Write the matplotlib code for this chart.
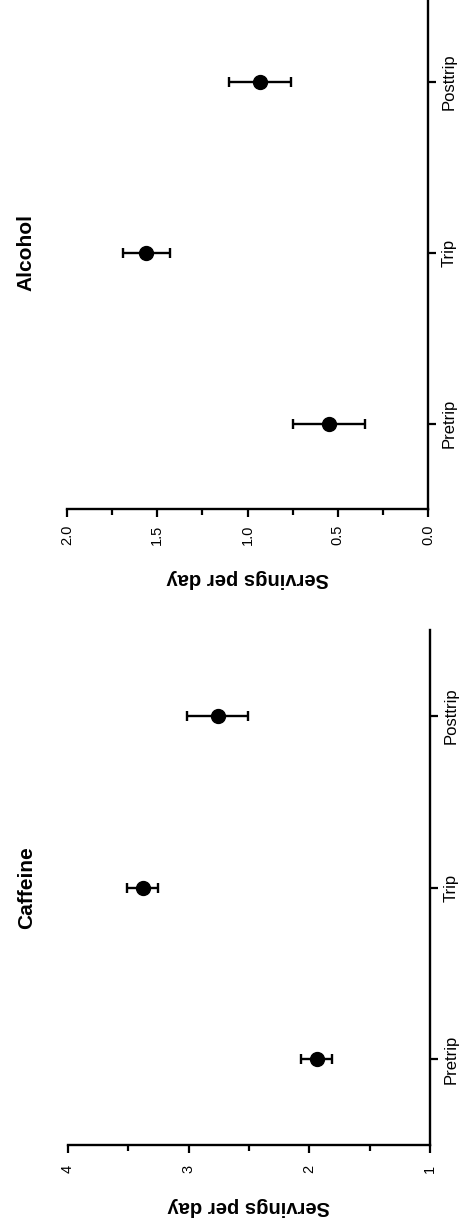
import matplotlib
matplotlib.use("Agg")
import matplotlib.pyplot as plt
from matplotlib.ticker import MultipleLocator

plt.rcParams['font.family'] = ['Liberation Sans', 'DejaVu Sans']

# figure is printed turned a quarter turn, so values run right-to-left
periods = ['Pretrip', 'Trip', 'Posttrip']
caffeine_mean = [1.94, 3.38, 2.76]
caffeine_sem = [0.13, 0.13, 0.25]
alcohol_mean = [0.55, 1.56, 0.93]
alcohol_sem = [0.20, 0.13, 0.17]

W, H = 461, 1230
fig = plt.figure(figsize=(W / 100, H / 100), dpi=100)


def panel(rect, mean, sem, vlim, major, minor, title, lab_y, pad):
    ax = fig.add_axes(rect)
    pos = list(range(len(periods)))
    ax.errorbar(mean, pos, xerr=sem, fmt='o', color='black', ms=10,
                elinewidth=1.7, capsize=3.6, capthick=1.7)
    ax.set_xlim(vlim)
    ax.set_ylim(-0.5, 2.5)
    for s in ['top', 'left']:
        ax.spines[s].set_visible(False)
    for s in ['bottom', 'right']:
        ax.spines[s].set_linewidth(1.7)
    ax.xaxis.set_major_locator(MultipleLocator(major))
    ax.xaxis.set_minor_locator(MultipleLocator(minor))
    ax.tick_params(axis='x', which='major', length=6, width=1.6, pad=pad,
                   labelsize=10.5, labelrotation=90)
    ax.tick_params(axis='x', which='minor', length=4, width=1.6)
    ax.yaxis.tick_right()
    ax.set_yticks(pos)
    ax.set_yticklabels(periods, rotation=90, va='center', fontsize=12)
    ax.tick_params(axis='y', length=6, width=1.6, pad=4)
    ax.text(-0.115, 0.5, title, transform=ax.transAxes, rotation=90,
            ha='center', va='center', fontsize=15, fontweight='bold')
    ax.text(0.5, lab_y, 'Servings per day', transform=ax.transAxes,
            rotation=180, ha='center', va='center', fontsize=14.5,
            fontweight='bold')
    return ax


# Caffeine panel (lower part of the page)
panel([68 / W, 1 - 1145 / H, 362 / W, 515 / H], caffeine_mean, caffeine_sem,
      (4, 1), 1, 0.5, 'Caffeine', -0.12, 8)

# Alcohol panel (upper part, runs off the top edge)
ax_top = panel([67 / W, 1 - 509 / H, 361 / W, 513 / H], alcohol_mean,
               alcohol_sem, (2, 0), 0.5, 0.25, 'Alcohol', -0.135, 5)
ax_top.xaxis.set_major_formatter(plt.FormatStrFormatter('%.1f'))

fig.savefig('out.png', dpi=100)
